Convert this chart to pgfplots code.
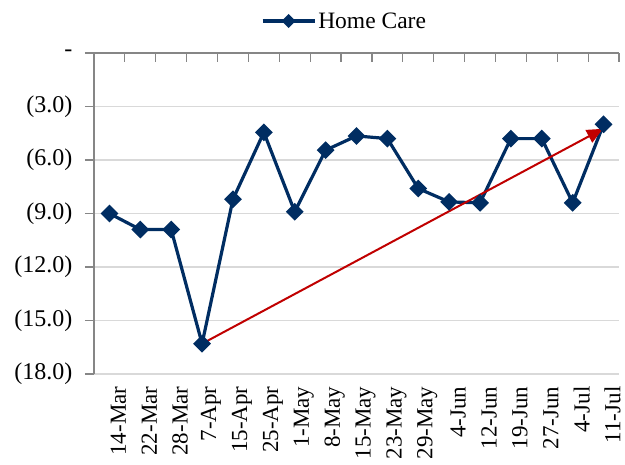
\documentclass[border=0pt]{standalone}
\usepackage{fontspec}
\setmainfont{Liberation Serif}
\usepackage{pgfplots}
\pgfplotsset{compat=1.18}
\usetikzlibrary{arrows.meta}
\definecolor{navy}{RGB}{0,45,98}
\definecolor{arrred}{RGB}{192,0,0}
\definecolor{axgray}{RGB}{134,134,134}
\definecolor{grd}{RGB}{217,217,217}
\begin{document}
\begin{tikzpicture}
\begin{axis}[
  scale only axis,
  width=525pt, height=321pt,
  xmin=-0.5, xmax=16.5, ymin=-18, ymax=0,
  axis y line=left, axis x line=bottom,
  axis line style={-},
  y axis line style={draw=axgray, line width=1.2pt},
  x axis line style={draw=none},
  xtick={0,...,16},
  xticklabels={14-Mar,22-Mar,28-Mar,7-Apr,15-Apr,25-Apr,1-May,8-May,15-May,23-May,29-May,4-Jun,12-Jun,19-Jun,27-Jun,4-Jul,11-Jul},
  x tick style={draw=none},
  major x tick style={draw=none},
  xticklabel style={rotate=90, anchor=east, font=\fontsize{23}{25}\selectfont, yshift=-9pt},
  ytick={-18,-15,-12,-9,-6,-3,0},
  yticklabels={(18.0),(15.0),(12.0),(9.0),(6.0),(3.0),-},
  yticklabel style={font=\fontsize{24}{27}\selectfont, xshift=-9pt},
  y tick style={draw=axgray, line width=1.2pt},
  tick align=outside,
  major tick length=9pt,
  ymajorgrids,
  grid style={draw=grd, line width=1.3pt},
  legend style={at={(0.5,1)}, anchor=center, xshift=-12pt, yshift=32pt, draw=none, fill=none, font=\fontsize{23.5}{26}\selectfont},
  legend image code/.code={\draw[mark repeat=2,mark phase=2,mark size=3.4pt,#1] plot coordinates {(0pt,0pt) (26pt,0pt) (52pt,0pt)};},
  clip=false,
]
\addplot[navy, line width=3.2pt, mark=square*, mark size=4.7pt, mark options={rotate=45, solid}]
coordinates {
(0,-9.0) (1,-9.9) (2,-9.9) (3,-16.3) (4,-8.2) (5,-4.45) (6,-8.9) (7,-5.45) (8,-4.65)
(9,-4.8) (10,-7.6) (11,-8.35) (12,-8.4) (13,-4.8) (14,-4.8) (15,-8.4) (16,-4.0)
};
\addlegendentry{Home Care}
\addplot[arrred, line width=2pt, -{Triangle[length=16pt,width=14pt]}, forget plot]
coordinates {(3,-16.3) (15.98,-4.25)};
\draw[axgray, line width=1.2pt] (rel axis cs:0,1) -- (rel axis cs:1,1);
\pgfplotsinvokeforeach{-0.5,0.5,1.5,2.5,3.5,4.5,5.5,6.5,7.5,8.5,9.5,10.5,11.5,12.5,13.5,14.5,15.5,16.5}{
  \draw[axgray, line width=1.2pt] (axis cs:#1,0) -- ++(0pt,-9pt);
}
\coordinate (bl) at (rel axis cs:0,0);
\coordinate (tr) at (rel axis cs:1,1);
\end{axis}
\pgfresetboundingbox
\path ([shift={(-94pt,-90pt)}]bl) rectangle ([shift={(6pt,53pt)}]tr);
\end{tikzpicture}
\end{document}
